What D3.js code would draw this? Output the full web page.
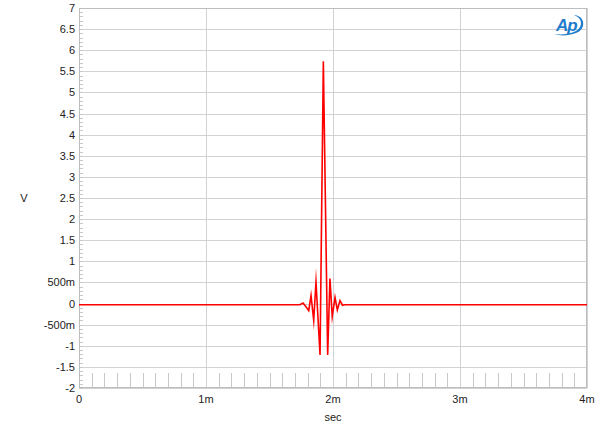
<!DOCTYPE html>
<html><head><meta charset="utf-8">
<script src="https://cdn.jsdelivr.net/npm/d3@7"></script>
<style>body{margin:0;background:#fff}svg{display:block}text{font-family:Arial,"Liberation Sans",sans-serif}</style>
</head><body>
<svg id="c" width="600" height="431"></svg>
<script>
// Data (time in ms, voltage in V)
const timeMs = [0, 1.740, 1.764, 1.783, 1.809, 1.827, 1.848, 1.866, 1.898, 1.924, 1.958, 1.976, 1.994, 2.016, 2.034, 2.055, 2.075, 2.094, 4.0];
const volts  = [-0.03, -0.03, 0.01, -0.06, -0.17, 0.19, -0.40, 0.51, -1.22, 5.74, -1.22, 0.59, -0.31, 0.145, -0.15, 0.07, -0.04, -0.03, -0.03];
const yTicks = [-2,-1.5,-1,-0.5,0,0.5,1,1.5,2,2.5,3,3.5,4,4.5,5,5.5,6,6.5,7];
const yTickLabels = ["-2","-1.5","-1","-500m","0","500m","1","1.5","2","2.5","3","3.5","4","4.5","5","5.5","6","6.5","7"];
const xTicks = [0,1,2,3,4];
const xTickLabels = ["0","1m","2m","3m","4m"];

const svg = d3.select("#c");
const L = 79, R = 587, T = 8, B = 388;
const x = d3.scaleLinear().domain([0,4]).range([L,R]);
const y = d3.scaleLinear().domain([-2,7]).range([B,T]);

// gridlines
const g = svg.append("g");
g.selectAll(".hg").data(yTicks).join("line")
  .attr("x1",L).attr("x2",R).attr("y1",d=>Math.round(y(d))+0.5).attr("y2",d=>Math.round(y(d))+0.5)
  .attr("stroke","#d2d2d2").attr("stroke-width",1);
g.selectAll(".vg").data(xTicks).join("line")
  .attr("y1",T).attr("y2",B).attr("x1",d=>Math.round(x(d))+0.5).attr("x2",d=>Math.round(x(d))+0.5)
  .attr("stroke","#d2d2d2").attr("stroke-width",1);

// minor ticks left
const yMinor = d3.range(-20,71).map(i=>i/10);
g.selectAll(".ym").data(yMinor).join("line")
  .attr("x1",L).attr("x2",L+4).attr("y1",d=>Math.round(y(d))+0.5).attr("y2",d=>Math.round(y(d))+0.5)
  .attr("stroke","#c8c8c8").attr("stroke-width",1);
// minor ticks bottom
const xMinor = d3.range(1,40).filter(i=>i%10!==0).map(i=>i/10);
g.selectAll(".xm").data(xMinor).join("line")
  .attr("y1",B).attr("y2",B-15).attr("x1",d=>Math.round(x(d))+0.5).attr("x2",d=>Math.round(x(d))+0.5)
  .attr("stroke","#c8c8c8").attr("stroke-width",1);

// border
svg.append("rect").attr("x",L+0.5).attr("y",T+0.5).attr("width",R-L-1).attr("height",B-T-1)
  .attr("fill","none").attr("stroke","#bdbdbd").attr("stroke-width",1);

// axes labels
svg.append("g").selectAll("text").data(yTicks).join("text")
  .attr("x",L-4).attr("y",d=>y(d)+4).attr("text-anchor","end").attr("font-size",11).attr("fill","#222")
  .text((d,i)=>yTickLabels[i]);
svg.append("g").selectAll("text").data(xTicks).join("text")
  .attr("x",d=>x(d)).attr("y",B+15).attr("text-anchor","middle").attr("font-size",11).attr("fill","#222")
  .text((d,i)=>xTickLabels[i]);
svg.append("text").attr("x",(L+R)/2).attr("y",421).attr("text-anchor","middle").attr("font-size",11).attr("fill","#222").text("sec");
svg.append("text").attr("x",24).attr("y",202).attr("text-anchor","middle").attr("font-size",11).attr("fill","#222").text("V");

// trace
const line = d3.line().x((d,i)=>x(timeMs[i])).y(d=>y(d));
svg.append("path").datum(volts).attr("d",line).attr("fill","none")
  .attr("stroke","#ff0000").attr("stroke-width",1.6).attr("stroke-linejoin","miter").attr("stroke-miterlimit",20);

// logo
const logo = svg.append("g").attr("transform","translate(554,14)");
logo.append("text").attr("x",2).attr("y",17).attr("font-size",17).attr("font-style","italic").attr("font-weight","bold")
  .attr("fill","#1f7ccc").attr("letter-spacing",-1).text("Ap");
logo.append("path").attr("d","M 20 1 C 32 2, 32 16, 22 19 C 14 22, 6 22, 0 20 C 8 21, 16 20, 22 17 C 29 13, 29 4, 20 1 Z")
  .attr("fill","#1f7ccc");
</script>
</body></html>
